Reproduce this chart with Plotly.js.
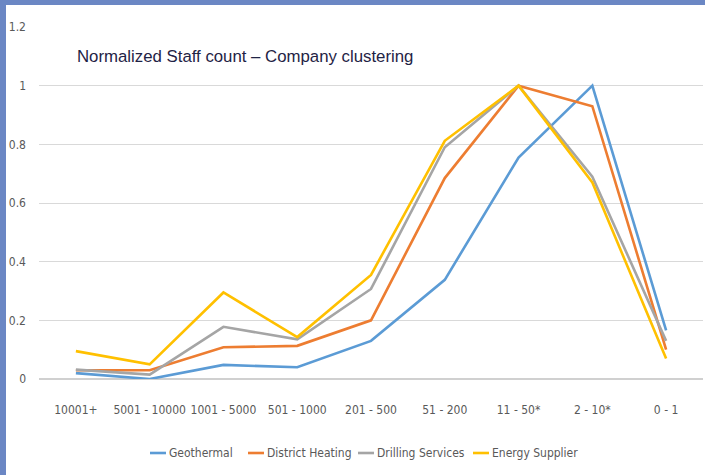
<!DOCTYPE html>
<html>
<head>
<meta charset="utf-8">
<script src="https://cdn.plot.ly/plotly-3.0.1.min.js"></script>
<style>
  html, body { margin: 0; padding: 0; background: #ffffff; }
  #wrap { position: relative; width: 705px; height: 475px; overflow: hidden; }
  #chart { position: absolute; left: 0; top: 0; width: 705px; height: 475px; }
  #bt { position: absolute; left: 0; top: 0; width: 705px; height: 5px; background: #6b87c4; }
  #bl { position: absolute; left: 0; top: 0; width: 6px; height: 475px; background: #6b87c4; }
</style>
</head>
<body>
<div id="wrap">
  <div id="chart"></div>
  <div id="bt"></div>
  <div id="bl"></div>
</div>
<script>
const categories = ["10001+", "5001 - 10000", "1001 - 5000", "501 - 1000", "201 - 500", "51 - 200", "11 - 50*", "2 - 10*", "0 - 1"];
const geothermal      = [0.02, 0.00, 0.048, 0.04, 0.13, 0.338, 0.755, 1.00, 0.166];
const districtHeating = [0.03, 0.03, 0.108, 0.113, 0.20, 0.685, 1.00, 0.93, 0.10];
const drillingServices= [0.032, 0.015, 0.178, 0.135, 0.307, 0.79, 1.00, 0.69, 0.13];
const energySupplier  = [0.095, 0.05, 0.295, 0.143, 0.355, 0.812, 1.00, 0.67, 0.07];
const seriesNames = ["Geothermal", "District Heating", "Drilling Services", "Energy Supplier"];
const yTicks = [0, 0.2, 0.4, 0.6, 0.8, 1, 1.2];
const yTickLabels = ["0", "0.2", "0.4", "0.6", "0.8", "1", "1.2"];
const titleText = "Normalized Staff count – Company clustering";

const colors = ["#5B9BD5", "#ED7D31", "#A5A5A5", "#FFC000"];
const seriesValues = [geothermal, districtHeating, drillingServices, energySupplier];

const traces = seriesValues.map((vals, i) => ({
  type: "scatter",
  mode: "lines",
  x: categories,
  y: vals,
  name: seriesNames[i],
  line: { color: colors[i], width: 2.6 },
  hoverinfo: "skip",
  showlegend: false
}));

const tickFont = { family: "'DejaVu Sans Condensed', 'Liberation Sans Narrow', 'Liberation Sans', sans-serif", size: 12, color: "#595959" };

// plot area in pixels (for placing the hand-laid legend and title)
const PL = 39, PR = 703, PT = 27, PB = 379;
const px2x = p => (p - PL) / (PR - PL);
const py2y = p => (PB - p) / (PB - PT);

// legend entry left edges (px) and legend row centre
const legendStarts = [150, 248, 358, 473];
const legendY = 453;

const shapes = [];
const annotations = [{
  text: titleText,
  xref: "paper", yref: "paper",
  x: px2x(75), y: py2y(57),
  xanchor: "left", yanchor: "middle",
  showarrow: false,
  font: { family: "'Liberation Sans', Arial, sans-serif", size: 16.8, color: "#1f2345" }
}];
seriesNames.forEach((name, i) => {
  const x0 = legendStarts[i];
  shapes.push({
    type: "line", xref: "paper", yref: "paper",
    x0: px2x(x0), x1: px2x(x0 + 16), y0: py2y(legendY), y1: py2y(legendY),
    line: { color: colors[i], width: 2.6 }
  });
  annotations.push({
    text: name,
    xref: "paper", yref: "paper",
    x: px2x(x0 + 17), y: py2y(legendY),
    xanchor: "left", yanchor: "middle",
    showarrow: false,
    font: tickFont
  });
});

const layout = {
  width: 705,
  height: 475,
  margin: { l: PL, r: 705 - PR, t: PT, b: 475 - PB },
  paper_bgcolor: "#ffffff",
  plot_bgcolor: "#ffffff",
  showlegend: false,
  xaxis: {
    type: "category",
    categoryorder: "array",
    categoryarray: categories,
    range: [-0.5, categories.length - 0.5],
    showgrid: false,
    zeroline: false,
    showline: false,
    ticks: "",
    tickfont: tickFont,
    ticklabelstandoff: 22,
    fixedrange: true
  },
  yaxis: {
    range: [0, 1.2],
    tickvals: yTicks,
    ticktext: yTickLabels,
    showgrid: true,
    gridcolor: "#d9d9d9",
    gridwidth: 1,
    zeroline: true,
    zerolinecolor: "#d0d0d0",
    zerolinewidth: 2,
    showline: false,
    ticks: "",
    tickfont: tickFont,
    ticklabelstandoff: 12,
    fixedrange: true
  },
  shapes: shapes,
  annotations: annotations
};

Plotly.newPlot("chart", traces, layout, { displayModeBar: false, staticPlot: true });
</script>
</body>
</html>
